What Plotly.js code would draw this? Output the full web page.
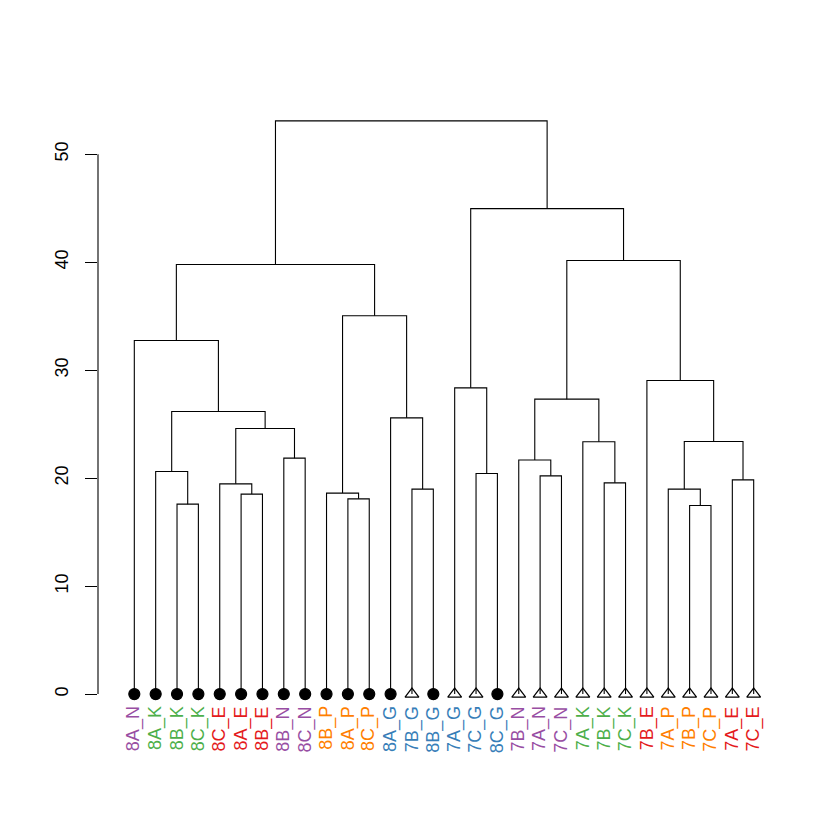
<!DOCTYPE html>
<html>
<head>
<meta charset="utf-8">
<script src="https://cdn.plot.ly/plotly-3.0.1.min.js"></script>
<style>html,body{margin:0;padding:0;background:#fff;}#chart{width:840px;height:840px;}</style>
</head>
<body>
<div id="chart"></div>
<script>
// Leaves in display order (1-based positions)
const leafLabels = ["8A_N","8A_K","8B_K","8C_K","8C_E","8A_E","8B_E","8B_N","8C_N","8B_P",
  "8A_P","8C_P","8A_G","7B_G","8B_G","7A_G","7C_G","8C_G","7B_N","7A_N",
  "7C_N","7A_K","7B_K","7C_K","7B_E","7A_P","7B_P","7C_P","7A_E","7C_E"];
// hclust-style merges: negative = leaf position, positive = earlier merge number
const mergeLeft  = [-27, -3, -11, -6, -10, -26, -14, -5, -23, -29, -20, -17, -2, -19, -8, 6, -22, 8, -13, 13, 14, -16, -25, -1, 5, 24, 21, 22, 26];
const mergeRight = [-28, -4, -12, -7, 3, 1, -15, 4, -24, -30, -21, -18, 2, 11, -9, 10, 9, 15, 7, 18, 17, 12, 16, 20, 19, 25, 23, 27, 28];
const mergeHeight = [17.46, 17.59, 18.08, 18.52, 18.61, 18.98, 18.98, 19.47, 19.56, 19.84,
  20.21, 20.43, 20.61, 21.67, 21.85, 23.39, 23.36, 24.59, 25.58, 26.17,
  27.31, 28.36, 29.04, 32.74, 35.03, 39.78, 40.15, 44.96, 53.08];
const yTicks = [0, 10, 20, 30, 40, 50];

const groupColor = {N: "#984EA3", K: "#4DAF4A", E: "#E41A1C", P: "#FF7F00", G: "#377EB8"};

const nodeX = [], nodeY = [];
function pos(ref) {
  if (ref < 0) return [-ref, 0];
  return [nodeX[ref - 1], nodeY[ref - 1]];
}
const segX = [], segY = [];
for (let i = 0; i < mergeHeight.length; i++) {
  const [xl, yl] = pos(mergeLeft[i]);
  const [xr, yr] = pos(mergeRight[i]);
  const h = mergeHeight[i];
  segX.push(xl, xl, xr, xr, null);
  segY.push(yl, h, h, yr, null);
  nodeX.push((xl + xr) / 2);
  nodeY.push(h);
}

const leafX = leafLabels.map((_, i) => i + 1);
const leafY = leafLabels.map(() => 0);
const leafSymbol = leafLabels.map(l => l[0] === "7" ? "triangle-up-open" : "circle");
const leafSize = leafLabels.map(l => l[0] === "7" ? 12 : 11);

const traces = [
  {x: segX, y: segY, type: "scatter", mode: "lines", line: {color: "#000", width: 1.1}, hoverinfo: "skip", showlegend: false},
  {x: leafX, y: leafY, type: "scatter", mode: "markers",
   marker: {symbol: leafSymbol, size: leafSize, color: "#000", opacity: 1, line: {color: "#000", width: 1.2}},
   hoverinfo: "skip", showlegend: false, cliponaxis: false}
];

const annotations = leafLabels.map((l, i) => ({
  x: i + 1, y: -0.95, xref: "x", yref: "y", text: l, showarrow: false,
  textangle: -90, xanchor: "center", yanchor: "top",
  font: {family: "Liberation Sans, Arial, sans-serif", size: 18, color: groupColor[l.slice(-1)]}
}));

const layout = {
  width: 840, height: 840,
  margin: {l: 98, r: 50, t: 98, b: 123},
  paper_bgcolor: "#fff", plot_bgcolor: "#fff",
  font: {family: "Liberation Sans, Arial, sans-serif", size: 18, color: "#000"},
  xaxis: {range: [-0.7, 31.7], showgrid: false, zeroline: false, showline: false, showticklabels: false, ticks: ""},
  yaxis: {range: [-2.123, 55.2], showgrid: false, zeroline: false, showline: false,
    tickvals: yTicks, ticktext: yTicks.map(String), ticks: "outside", ticklen: 12, tickwidth: 1.1, tickcolor: "#000",
    tickangle: -90, ticklabelstandoff: 10, tickfont: {size: 18, color: "#000"}},
  shapes: [{type: "line", xref: "paper", yref: "y", x0: 0, x1: 0, y0: yTicks[0], y1: yTicks[yTicks.length - 1],
    line: {color: "#000", width: 1.1}}],
  annotations: annotations
};

Plotly.newPlot("chart", traces, layout, {displayModeBar: false, staticPlot: true});
</script>
</body>
</html>
